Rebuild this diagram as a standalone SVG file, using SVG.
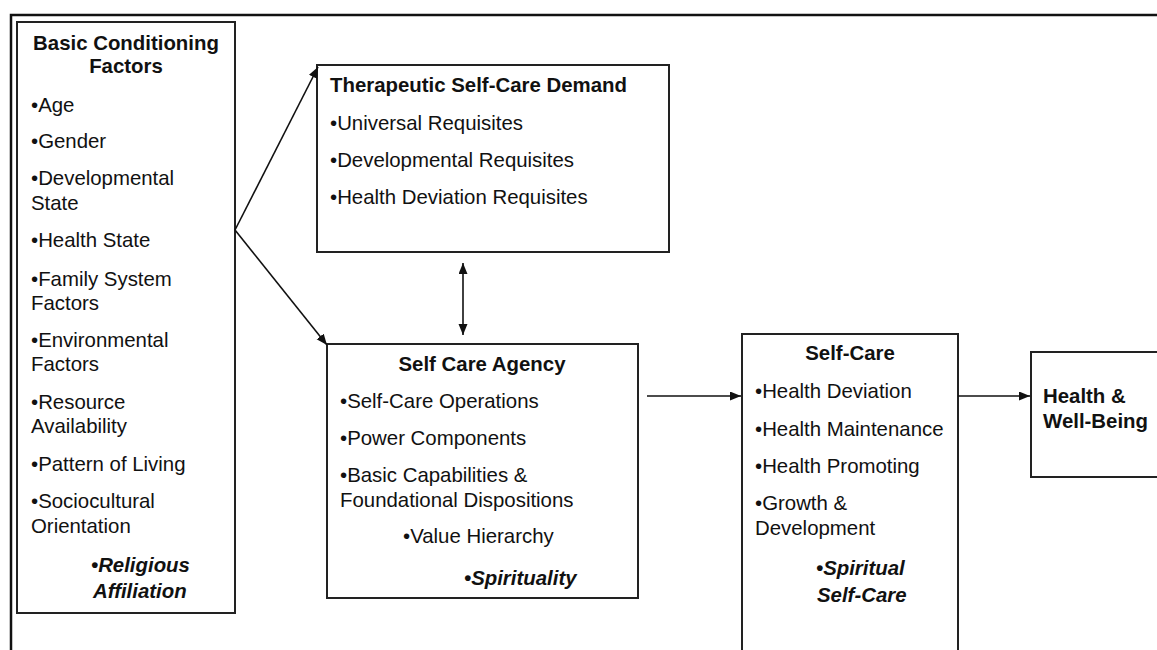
<svg xmlns="http://www.w3.org/2000/svg" width="1157" height="650" viewBox="0 0 1157 650">
<style>
.box{fill:#fff;stroke:#222;stroke-width:2}
.frame{fill:none;stroke:#111;stroke-width:2.5}
.t{font-family:"Liberation Sans",Arial,sans-serif;font-size:20.4px;fill:#111}
.b{font-weight:bold}
.bi{font-weight:bold;font-style:italic}
.c{text-anchor:middle}
.con{stroke:#111;stroke-width:1.6;fill:none}
</style>
<defs>
<marker id="ah" markerUnits="userSpaceOnUse" markerWidth="12" markerHeight="10" refX="11" refY="4.5" orient="auto-start-reverse">
<path d="M0,0 L11,4.5 L0,9 Z" fill="#111"/>
</marker>
</defs>
<rect width="1157" height="650" fill="#fff"/>
<path class="frame" d="M11,650 L11,15 L1157,15"/>

<g id="bcf">
<rect class="box" x="17" y="22" width="218" height="591"/>
<text class="t b c" x="126" y="50">Basic Conditioning</text>
<text class="t b c" x="126" y="73">Factors</text>
<text class="t" x="31" y="112">•Age</text>
<text class="t" x="31" y="148">•Gender</text>
<text class="t" x="31" y="185">•Developmental</text>
<text class="t" x="31" y="210">State</text>
<text class="t" x="31" y="247">•Health State</text>
<text class="t" x="31" y="286">•Family System</text>
<text class="t" x="31" y="310">Factors</text>
<text class="t" x="31" y="347">•Environmental</text>
<text class="t" x="31" y="371">Factors</text>
<text class="t" x="31" y="409">•Resource</text>
<text class="t" x="31" y="433">Availability</text>
<text class="t" x="31" y="471">•Pattern of Living</text>
<text class="t" x="31" y="508">•Sociocultural</text>
<text class="t" x="31" y="533">Orientation</text>
<text class="t bi" x="91" y="572">•Religious</text>
<text class="t bi" x="93" y="598">Affiliation</text>
</g>

<g id="tscd">
<rect class="box" x="317" y="65" width="352" height="187"/>
<text class="t b" x="330" y="92">Therapeutic Self-Care Demand</text>
<text class="t" x="330" y="130">•Universal Requisites</text>
<text class="t" x="330" y="167">•Developmental Requisites</text>
<text class="t" x="330" y="204">•Health Deviation Requisites</text>
</g>

<g id="sca">
<rect class="box" x="327" y="344" width="311" height="254"/>
<text class="t b c" x="482" y="371">Self Care Agency</text>
<text class="t" x="340" y="408">•Self-Care Operations</text>
<text class="t" x="340" y="445">•Power Components</text>
<text class="t" x="340" y="482">•Basic Capabilities &amp;</text>
<text class="t" x="340" y="507">Foundational Dispositions</text>
<text class="t" x="403" y="543">•Value Hierarchy</text>
<text class="t bi" x="464" y="585">•Spirituality</text>
</g>

<g id="sc">
<rect class="box" x="742" y="334" width="216" height="330"/>
<text class="t b c" x="850" y="360">Self-Care</text>
<text class="t" x="755" y="398">•Health Deviation</text>
<text class="t" x="755" y="436">•Health Maintenance</text>
<text class="t" x="755" y="473">•Health Promoting</text>
<text class="t" x="755" y="510">•Growth &amp;</text>
<text class="t" x="755" y="535">Development</text>
<text class="t bi" x="816" y="575">•Spiritual</text>
<text class="t bi" x="817" y="602">Self-Care</text>
</g>

<g id="hwb">
<rect class="box" x="1031" y="352" width="140" height="125"/>
<text class="t b" x="1043" y="403">Health &amp;</text>
<text class="t b" x="1043" y="428">Well-Being</text>
</g>

<g id="connectors">
<line class="con" x1="235" y1="230" x2="318" y2="67" marker-end="url(#ah)"/>
<line class="con" x1="235" y1="230" x2="327" y2="345" marker-end="url(#ah)"/>
<line class="con" x1="463" y1="263" x2="463" y2="335" marker-start="url(#ah)" marker-end="url(#ah)"/>
<line class="con" x1="647" y1="396" x2="741" y2="396" marker-end="url(#ah)"/>
<line class="con" x1="958" y1="396" x2="1030" y2="396" marker-end="url(#ah)"/>
</g>
</svg>
